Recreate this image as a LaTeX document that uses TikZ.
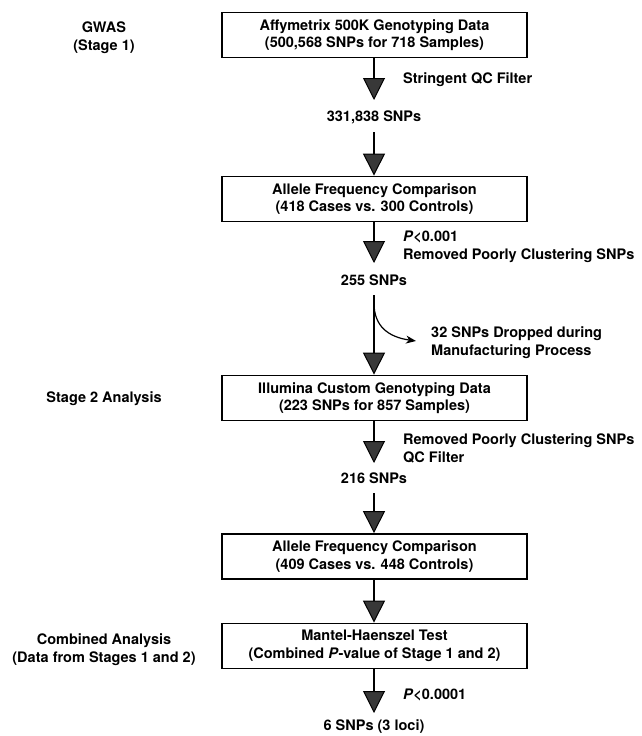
\documentclass[tikz,border=0pt]{standalone}
\usepackage{fontspec}
\setmainfont{TeX Gyre Heros}
\usetikzlibrary{arrows.meta}

\tikzset{
  stepbox/.style={draw=black, line width=1.8pt, minimum width=305pt, minimum height=45pt,
    align=center, inner sep=0pt, font=\fontsize{14.5pt}{17.5pt}\selectfont\bfseries},
  lbl/.style={inner sep=0pt, align=center, font=\fontsize{14.5pt}{17.5pt}\selectfont\bfseries},
  lbll/.style={inner sep=0pt, align=left, anchor=west, font=\fontsize{14.5pt}{18pt}\selectfont\bfseries},
  flow/.style={draw=black, line width=2.8pt,
    -{Triangle[length=22pt, width=22pt, fill=black!78, line width=1pt]}},
  branch/.style={draw=black, line width=1.2pt, -{Stealth[length=10pt, width=8pt, inset=3pt]}}
}

\begin{document}
\begin{tikzpicture}[x=1pt, y=-1pt]
  \useasboundingbox (0,0) rectangle (641,736);

  % left-hand stage labels
  \node[lbl] (gwas) at (104,37.5) {GWAS\\(Stage 1)};
  \node[lbl] (stage2) at (104,399) {Stage 2 Analysis};
  \node[lbl] (comb) at (104,649.5) {Combined Analysis\\(Data from Stages 1 and 2)};

  % main boxes
  \node[stepbox] (b1) at (374.5,35) {Affymetrix 500K Genotyping Data\\(500,568 SNPs for 718 Samples)};
  \node[stepbox] (b2) at (374.5,199) {Allele Frequency Comparison\\(418 Cases vs. 300 Controls)};
  \node[stepbox] (b3) at (374.5,398) {Illumina Custom Genotyping Data\\(223 SNPs for 857 Samples)};
  \node[stepbox] (b4) at (374.5,556.5) {Allele Frequency Comparison\\(409 Cases vs. 448 Controls)};
  \node[stepbox] (b5) at (374.5,646) {Mantel-Haenszel Test\\(Combined \textit{P}-value of Stage 1 and 2)};

  % SNP counts between steps
  \node[lbl] (n1) at (374,117) {331,838 SNPs};
  \node[lbl] (n2) at (374,280) {255 SNPs};
  \node[lbl] (n3) at (374,478) {216 SNPs};
  \node[lbl] (n4) at (374,727) {6 SNPs (3 loci)};

  % filter notes beside the arrows
  \node[lbll] (f1) at (403,80) {Stringent QC Filter};
  \node[lbll] (f2) at (403,247) {\textit{P}<0.001\\Removed Poorly Clustering SNPs};
  \node[lbll] (f3) at (431,343) {32 SNPs Dropped during\\Manufacturing Process};
  \node[lbll] (f4) at (403,448) {Removed Poorly Clustering SNPs\\QC Filter};
  \node[lbll] (f5) at (403,695) {\textit{P}<0.0001};

  % arrow ends
  \coordinate (t1) at (374,100);
  \coordinate (s2) at (374,132);
  \coordinate (t3) at (374,263);
  \coordinate (s4) at (374,295);
  \coordinate (t5) at (374,463);
  \coordinate (s6) at (374,493);
  \coordinate (t8) at (374,713);
  \coordinate (c0) at (374,303);
  \coordinate (c1) at (416,341);

  % main flow
  \draw[flow] (b1.south -| t1) -- (t1);
  \draw[flow] (s2) -- (b2.north -| s2);
  \draw[flow] (b2.south -| t3) -- (t3);
  \draw[flow] (s4) -- (b3.north -| s4);
  \draw[flow] (b3.south -| t5) -- (t5);
  \draw[flow] (s6) -- (b4.north -| s6);
  \draw[flow] (b4.south -| s6) -- (b5.north -| s6);
  \draw[flow] (b5.south -| t8) -- (t8);

  % SNPs lost in manufacturing
  \draw[branch] (c0) .. controls (374,326) and (388,337) .. (c1);
\end{tikzpicture}
\end{document}
